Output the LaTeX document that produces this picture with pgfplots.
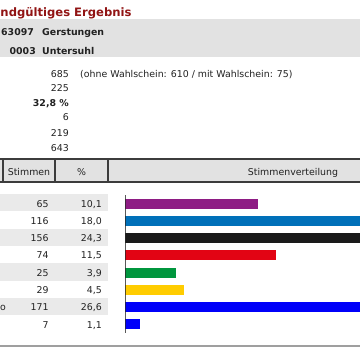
\documentclass[border=0pt]{standalone}
\usepackage{fontspec}
\setmainfont{DejaVu Sans}
\usepackage{pgfplots}
\pgfplotsset{compat=1.18}
\definecolor{titlered}{RGB}{145,20,20}
\definecolor{bandgray}{RGB}{226,226,226}
\definecolor{rowgray}{RGB}{234,234,234}
\definecolor{bordergray}{RGB}{60,60,60}
\definecolor{txt}{RGB}{34,34,34}
\definecolor{cpurple}{RGB}{142,28,132}
\definecolor{cblue}{RGB}{0,112,185}
\definecolor{cblack}{RGB}{26,26,26}
\definecolor{cred}{RGB}{226,4,20}
\definecolor{cgreen}{RGB}{0,150,62}
\definecolor{cyellow}{RGB}{255,204,0}
\definecolor{cblue2}{RGB}{0,0,250}
\pgfplotstableread{
x y
10.1 1
18.0 2
24.3 3
11.5 4
3.9 5
4.5 6
26.6 7
1.1 8
}\bars
\begin{document}
\begin{tikzpicture}
\useasboundingbox (0,0) rectangle (360pt,-360pt);
\clip (0,0) rectangle (360pt,-360pt);
\begin{scope}[x=1pt,y=-1pt]
\fill[white] (0,0) rectangle (360,360);
% top band
\fill[bandgray] (0,19) rectangle (360,57);
% header
\fill[bandgray] (0,159) rectangle (360,182);
\draw[bordergray,line width=1.2pt] (0,159) -- (360,159) (0,182) -- (360,182);
\draw[bordergray,line width=1.2pt] (3,159) -- (3,182) (55,159) -- (55,182) (108,159) -- (108,182);
% row bands
\foreach \i in {0,2,4,6} {
  \fill[rowgray] (0,{194+17.3*\i}) rectangle (108,{194+17.3*(\i+1)});
}
\draw[gray!75,line width=1.6pt] (0,345.7) -- (360,345.7);
\node[anchor=base west,inner sep=0pt,text=titlered,font=\bfseries\fontsize{11.6}{14}\selectfont] at (0.3,16) {ndgültiges Ergebnis};
\begin{scope}[every node/.style={inner sep=0pt,text=txt,font=\fontsize{9.4}{11}\selectfont}]
\node[anchor=base west,font=\bfseries\fontsize{9.4}{11}\selectfont] at (1,35.5) {63097};
\node[anchor=base west,font=\bfseries\fontsize{9.4}{11}\selectfont] at (42,35.5) {Gerstungen};
\node[anchor=base east,font=\bfseries\fontsize{9.4}{11}\selectfont] at (36,54) {0003};
\node[anchor=base west,font=\bfseries\fontsize{9.4}{11}\selectfont] at (42,54) {Untersuhl};
\node[anchor=base east] at (69,77) {685};
\node[anchor=base west] at (80,77) {(ohne Wahlschein: 610 / mit Wahlschein: 75)};
\node[anchor=base east] at (69,91) {225};
\node[anchor=base east,font=\bfseries\fontsize{9.4}{11}\selectfont] at (69,106) {32,8 \%};
\node[anchor=base east] at (69,120.5) {6};
\node[anchor=base east] at (69,136) {219};
\node[anchor=base east] at (69,151) {643};
\node[anchor=base] at (29,175) {Stimmen};
\node[anchor=base] at (81.5,175) {\%};
\node[anchor=base] at (293,175) {Stimmenverteilung};
\foreach \s/\p [count=\k from 0] in {65/{10,1},116/{18,0},156/{24,3},74/{11,5},25/{3,9},29/{4,5},171/{26,6},7/{1,1}} {
  \node[anchor=base east] at (48.7,{207+17.3*\k}) {\s};
  \node[anchor=base east] at (102,{207+17.3*\k}) {\p};
}
\node[anchor=base west] at (0,{207+17.3*6}) {o};
\end{scope}
\end{scope}
\begin{axis}[at={(125.3pt,-195pt)}, anchor=north west, scale only axis,
  width=234.7pt, height=138pt, xmin=0, xmax=17.89, ymin=0.5, ymax=8.5,
  y dir=reverse, hide axis, xbar, bar width=10pt,
  every axis plot/.append style={bar shift=0pt, draw=none}]
\addplot[fill=cpurple] table[x=x,y=y,skip coords between index={1}{8}] {\bars};
\addplot[fill=cblue] table[x=x,y=y,skip coords between index={0}{1},skip coords between index={2}{8}] {\bars};
\addplot[fill=cblack] table[x=x,y=y,skip coords between index={0}{2},skip coords between index={3}{8}] {\bars};
\addplot[fill=cred] table[x=x,y=y,skip coords between index={0}{3},skip coords between index={4}{8}] {\bars};
\addplot[fill=cgreen] table[x=x,y=y,skip coords between index={0}{4},skip coords between index={5}{8}] {\bars};
\addplot[fill=cyellow] table[x=x,y=y,skip coords between index={0}{5},skip coords between index={6}{8}] {\bars};
\addplot[fill=cblue2] table[x=x,y=y,skip coords between index={0}{6},skip coords between index={7}{8}] {\bars};
\addplot[fill=cblue2] table[x=x,y=y,skip coords between index={0}{7}] {\bars};
\draw[black,line width=1.5pt] (axis cs:0,0.5) -- (axis cs:0,8.5);
\end{axis}
\end{tikzpicture}
\end{document}
